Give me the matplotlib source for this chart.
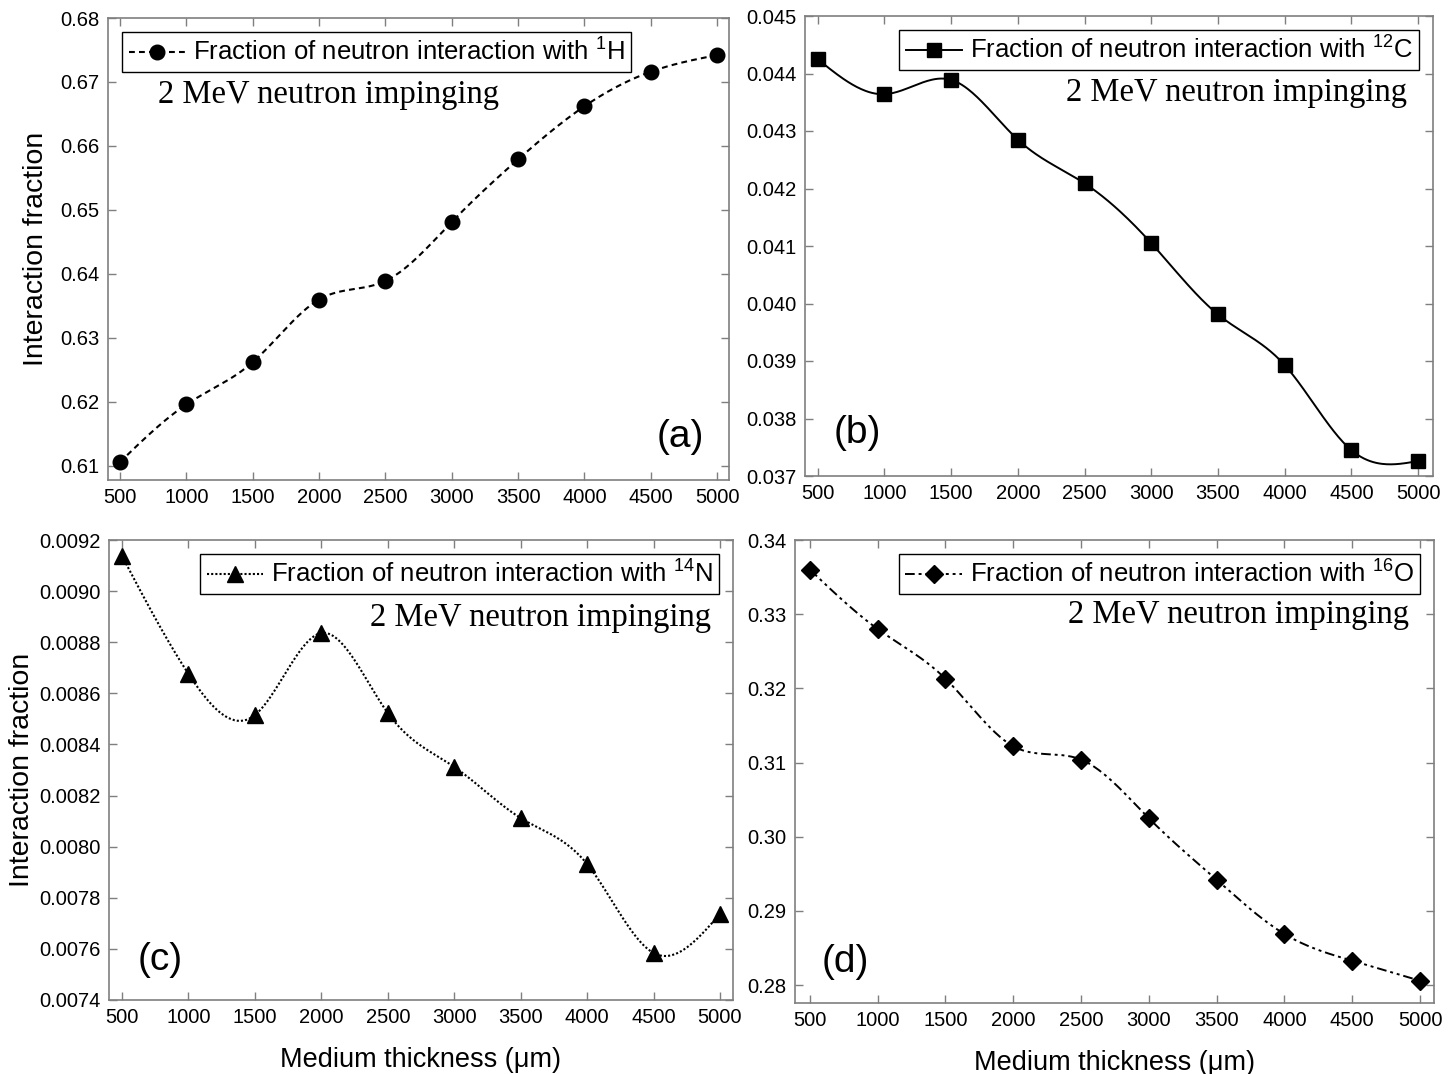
import numpy as np
import matplotlib
matplotlib.use("Agg")
import matplotlib.pyplot as plt

plt.rcParams['font.family'] = ['Liberation Sans', 'DejaVu Sans']
plt.rcParams['mathtext.fontset'] = 'custom'
plt.rcParams['mathtext.rm'] = 'Liberation Sans'
plt.rcParams['mathtext.it'] = 'Liberation Sans:italic'
plt.rcParams['mathtext.bf'] = 'Liberation Sans:bold'

# ---------------- data ----------------
thickness = [500, 1000, 1500, 2000, 2500, 3000, 3500, 4000, 4500, 5000]
frac_H = [0.6106, 0.6196, 0.6262, 0.6360, 0.6389, 0.6481, 0.6579, 0.6662, 0.6716, 0.6742]
frac_C = [0.04425, 0.04364, 0.04389, 0.04285, 0.04209, 0.04105, 0.03981, 0.03893, 0.03745, 0.03726]
frac_N = [0.009137, 0.008676, 0.008515, 0.008836, 0.008523, 0.008312, 0.008112, 0.007932, 0.007584, 0.007737]
frac_O = [0.3360, 0.3280, 0.3213, 0.3122, 0.3104, 0.3025, 0.2942, 0.2869, 0.2833, 0.2806]

xtick_labels = ['500', '1000', '1500', '2000', '2500', '3000', '3500', '4000', '4500', '5000']
yticks_H = [0.61, 0.62, 0.63, 0.64, 0.65, 0.66, 0.67, 0.68]
yticks_C = [0.037, 0.038, 0.039, 0.040, 0.041, 0.042, 0.043, 0.044, 0.045]
yticks_N = [0.0074, 0.0076, 0.0078, 0.0080, 0.0082, 0.0084, 0.0086, 0.0088, 0.0090, 0.0092]
yticks_O = [0.28, 0.29, 0.30, 0.31, 0.32, 0.33, 0.34]

legend_labels = [r'Fraction of neutron interaction with $^{\mathregular{1}}$H',
                 r'Fraction of neutron interaction with $^{\mathregular{12}}$C',
                 r'Fraction of neutron interaction with $^{\mathregular{14}}$N',
                 r'Fraction of neutron interaction with $^{\mathregular{16}}$O']
panel_labels = ['(a)', '(b)', '(c)', '(d)']
note = '2 MeV neutron impinging'


def natural_spline(x, y, n=400):
    """Smooth connecting curve (natural cubic spline) through the data points."""
    x = np.asarray(x, float)
    y = np.asarray(y, float)
    k = len(x)
    h = np.diff(x)
    A = np.zeros((k, k))
    r = np.zeros(k)
    A[0, 0] = A[-1, -1] = 1.0
    for i in range(1, k - 1):
        A[i, i - 1] = h[i - 1]
        A[i, i] = 2 * (h[i - 1] + h[i])
        A[i, i + 1] = h[i]
        r[i] = 3 * ((y[i + 1] - y[i]) / h[i] - (y[i] - y[i - 1]) / h[i - 1])
    c = np.linalg.solve(A, r)
    b = (y[1:] - y[:-1]) / h - h * (2 * c[:-1] + c[1:]) / 3
    d = (c[1:] - c[:-1]) / (3 * h)
    xs = np.linspace(x[0], x[-1], n)
    idx = np.clip(np.searchsorted(x, xs) - 1, 0, k - 2)
    dx = xs - x[idx]
    ys = y[idx] + b[idx] * dx + c[idx] * dx ** 2 + d[idx] * dx ** 3
    return xs, ys


fig = plt.figure(figsize=(14.52, 10.74), dpi=100)

W, H = 1452.0, 1074.0
def ax_at(l, t, r, b):
    return fig.add_axes([l / W, 1 - b / H, (r - l) / W, (b - t) / H])

axes = [ax_at(108, 18, 729, 480), ax_at(805, 16, 1433, 476),
        ax_at(109, 540, 733, 1000), ax_at(795, 540, 1434, 1003)]

series = [frac_H, frac_C, frac_N, frac_O]
markers = ['o', 's', '^', 'D']
msizes = [10.5, 9.5, 11.5, 9.5]
lstyles = [(0, (2.8, 2)), '-', (0, (1, 1)), (0, (5, 2, 1.5, 2, 1.5, 2))]
lwidths = [1.5, 1.4, 1.5, 1.4]
ylims = [(0.6078, 0.68), (0.037, 0.045), (0.0074, 0.0092), (0.2776, 0.34)]
xlims = [(410, 5090), (405, 5112), (402, 5098), (390, 5103)]
yticks = [yticks_H, yticks_C, yticks_N, yticks_O]
yfmt = ['{:.2f}', '{:.3f}', '{:.4f}', '{:.2f}']
leg_locs = ['upper left', 'upper right', 'upper right', 'upper right']
note_pos = [(0.08, 0.833), (0.959, 0.833), (0.965, 0.830), (0.961, 0.838)]
note_ha = ['left', 'right', 'right', 'right']
plab_pos = [(0.921, 0.093), (0.084, 0.093), (0.082, 0.087), (0.078, 0.089)]

for i, ax in enumerate(axes):
    xs, ys = natural_spline(thickness, series[i])
    ax.plot(xs, ys, color='black', linestyle=lstyles[i], linewidth=lwidths[i])
    ax.plot(thickness, series[i], linestyle='none', marker=markers[i],
            markersize=msizes[i], color='black')
    # legend proxy
    ax.plot([], [], color='black', linestyle=lstyles[i], linewidth=lwidths[i],
            marker=markers[i], markersize=msizes[i], label=legend_labels[i])
    ax.set_xlim(*xlims[i])
    ax.set_ylim(*ylims[i])
    ax.set_xticks(thickness)
    ax.set_xticklabels(xtick_labels)
    ax.set_yticks(yticks[i])
    ax.set_yticklabels([yfmt[i].format(v) for v in yticks[i]])
    ax.tick_params(direction='in', top=True, right=True, length=6, width=1,
                   color='#7f7f7f', labelsize=14.5, pad=6)
    for s in ax.spines.values():
        s.set_color('#7f7f7f')
        s.set_linewidth(1.2)
    leg = ax.legend(loc=leg_locs[i], fontsize=18.5, frameon=True, fancybox=False,
                    edgecolor='black', framealpha=1, handlelength=2.2,
                    borderpad=0.25, handletextpad=0.3, borderaxespad=0.55)
    leg.get_frame().set_linewidth(1.0)
    ax.text(note_pos[i][0], note_pos[i][1], note, transform=ax.transAxes,
            ha=note_ha[i], va='center', fontsize=23.5, family='Liberation Serif')
    ax.text(plab_pos[i][0], plab_pos[i][1], panel_labels[i], transform=ax.transAxes,
            ha='center', va='center', fontsize=28)

axes[0].set_ylabel('Interaction fraction', fontsize=20.5, labelpad=8)
axes[2].set_ylabel('Interaction fraction', fontsize=20.5, labelpad=3)
axes[2].set_xlabel('Medium thickness (μm)', fontsize=19.5, labelpad=14)
axes[3].set_xlabel('Medium thickness (μm)', fontsize=19.5, labelpad=14)

fig.savefig('out.png', dpi=100)
